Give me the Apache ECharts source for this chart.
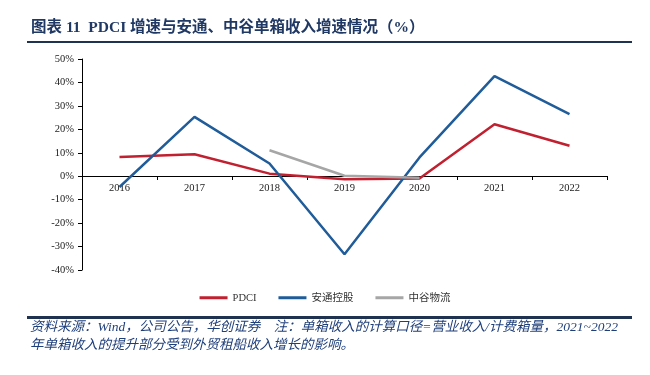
<!DOCTYPE html>
<html><head><meta charset="utf-8">
<script src="https://cdn.jsdelivr.net/npm/echarts@6/dist/echarts.min.js"></script>
<style>html,body{margin:0;padding:0;background:#fff}#c{width:650px;height:375px}</style>
</head><body><div id="c"></div>
<script>
var categories = ['2016','2017','2018','2019','2020','2021','2022'];
var pdci = [8.2, 9.4, 1.1, -1.3, -1.0, 22.2, 13.0];
var antong = [-4.6, 25.3, 5.4, -33.3, 8.0, 42.7, 26.5];
var zhonggu = [null, null, 11.1, 0.2, -0.6, null, null];
var yTicks = {min: -40, max: 50, interval: 10};
var titleText = '图表 11  PDCI 增速与安通、中谷单箱收入增速情况（%）';
var note1 = '资料来源：Wind，公司公告，华创证券    注：单箱收入的计算口径=营业收入/计费箱量，2021~2022';
var note2 = '年单箱收入的提升部分受到外贸租船收入增长的影响。';

var serif = '"Liberation Serif","Noto Sans CJK SC",serif';
var chart = echarts.init(document.getElementById('c'));
chart.setOption({
  animation: false,
  backgroundColor: '#fff',
  title: {
    text: titleText, left: 26, top: 15,
    textStyle: {fontFamily: serif, fontSize: 15.5, fontWeight: 'bold', color: '#1F3864'}
  },
  graphic: [
    {type: 'rect', shape: {x: 27, y: 41, width: 605, height: 2}, style: {fill: '#1F3350'}},
    {type: 'rect', shape: {x: 27, y: 316, width: 605, height: 3}, style: {fill: '#1F3350'}},
    {type: 'text', left: 30, top: 321, style: {text: note1, fill: '#1F3F7A', font: 'italic 13.5px ' + serif}},
    {type: 'text', left: 30, top: 339, style: {text: note2, fill: '#1F3F7A', font: 'italic 13.5px ' + serif}}
  ],
  legend: {
    bottom: 67, left: 'center', itemWidth: 28, itemHeight: 3, itemGap: 22,
    icon: 'rect',
    textStyle: {fontFamily: serif, fontSize: 10.5, color: '#333'},
    data: ['PDCI', '安通控股', '中谷物流']
  },
  grid: {left: 82, right: 43, top: 59, bottom: 105},
  xAxis: {
    type: 'category', data: categories, boundaryGap: true,
    offset: -94,
    axisLine: {onZero: false, lineStyle: {color: '#000', width: 1}},
    axisTick: {show: true, inside: false, length: 4, lineStyle: {color: '#000'}},
    axisLabel: {fontFamily: serif, fontSize: 10.5, color: '#222', margin: 7}
  },
  yAxis: {
    type: 'value', min: yTicks.min, max: yTicks.max, interval: yTicks.interval,
    axisLine: {show: true, lineStyle: {color: '#000', width: 1}},
    axisTick: {show: true, length: 4, lineStyle: {color: '#000'}},
    splitLine: {show: false},
    axisLabel: {formatter: '{value}%', fontFamily: serif, fontSize: 10.5, color: '#222', margin: 8}
  },
  series: [
    {name: 'PDCI', type: 'line', data: pdci, symbol: 'none', lineStyle: {width: 2.5, color: '#C0202F'}, itemStyle: {color: '#C0202F'}},
    {name: '安通控股', type: 'line', data: antong, symbol: 'none', lineStyle: {width: 2.5, color: '#1F5C99'}, itemStyle: {color: '#1F5C99'}},
    {name: '中谷物流', type: 'line', data: zhonggu, symbol: 'none', lineStyle: {width: 2.5, color: '#A6A6A6'}, itemStyle: {color: '#A6A6A6'}}
  ]
});
</script></body></html>
